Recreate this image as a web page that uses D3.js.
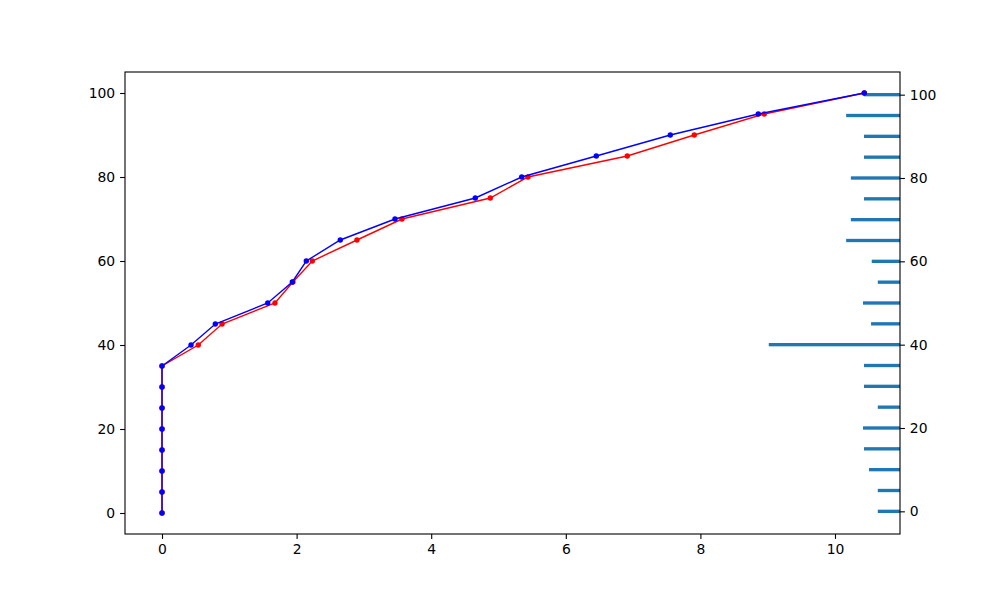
<!DOCTYPE html>
<html><head><meta charset="utf-8">
<script src="https://cdn.jsdelivr.net/npm/d3@7"></script>
<style>body{margin:0;background:#fff}svg{display:block}text{font-family:"DejaVu Sans",sans-serif}</style>
</head><body>
<svg id="c" width="1000" height="600"></svg>
<script>
const levels = [0,5,10,15,20,25,30,35,40,45,50,55,60,65,70,75,80,85,90,95,100];
const blueX = [0,0,0,0,0,0,0,0,0.431,0.792,1.571,1.936,2.144,2.649,3.462,4.655,5.345,6.453,7.553,8.860,10.435];
const redX  = [0,0,0,0,0,0,0,0,0.539,0.892,1.679,1.946,2.233,2.897,3.566,4.878,5.438,6.914,7.909,8.949,10.435];
const barLen = [0.33,0.33,0.46,0.535,0.55,0.33,0.535,0.535,1.95,0.43,0.55,0.33,0.42,0.80,0.73,0.535,0.73,0.535,0.535,0.80,0.535];
const xTicks = [0,2,4,6,8,10];
const yTicks = [0,20,40,60,80,100];

const svg = d3.select("#c");
const L=125,R=900,T=72,B=534;
const x = d3.scaleLinear().domain([-0.55,10.966]).range([L,R]);
const y = d3.scaleLinear().domain([-5,105]).range([B,T]);
const barH = 0.8;
const y2 = d3.scaleLinear().domain([-5.44,105.44]).range([B,T]);

// bars
const xMax = x.domain()[1];
svg.append("g").selectAll("rect").data(levels).join("rect")
  .attr("x",(d,i)=>x(xMax-barLen[i]))
  .attr("width",(d,i)=>x(xMax)-x(xMax-barLen[i]))
  .attr("y",d=>y2(d+barH/2))
  .attr("height",d=>y2(d-barH/2)-y2(d+barH/2))
  .attr("fill","#1f77b4");

function series(xs,color){
  const pts = levels.map((v,i)=>[xs[i],v]);
  svg.append("path").datum(pts)
    .attr("d",d3.line().x(d=>x(d[0])).y(d=>y(d[1])))
    .attr("fill","none").attr("stroke",color).attr("stroke-width",1.4);
  svg.append("g").selectAll("circle").data(pts).join("circle")
    .attr("cx",d=>x(d[0])).attr("cy",d=>y(d[1])).attr("r",2.7).attr("fill",color);
}
series(redX,"red");
series(blueX,"blue");

// axes
const fs = "13.9px";
const gx = svg.append("g").attr("transform",`translate(0,${B})`)
  .call(d3.axisBottom(x).tickValues(xTicks).tickFormat(d3.format("d")).tickSize(4.9).tickPadding(4.9));
const gy = svg.append("g").attr("transform",`translate(${L},0)`)
  .call(d3.axisLeft(y).tickValues(yTicks).tickFormat(d3.format("d")).tickSize(4.9).tickPadding(4.9));
const gy2 = svg.append("g").attr("transform",`translate(${R},0)`)
  .call(d3.axisRight(y2).tickValues(yTicks).tickFormat(d3.format("d")).tickSize(4.9).tickPadding(4.9));
[gx,gy,gy2].forEach(g=>{
  g.select(".domain").remove();
  g.selectAll("text").style("font-size",fs).attr("fill","#000");
  g.selectAll("line").attr("stroke","#000").attr("stroke-width",1.1);
});
svg.append("rect").attr("x",L).attr("y",T).attr("width",R-L).attr("height",B-T)
  .attr("fill","none").attr("stroke","#000").attr("stroke-width",1.1);
</script>
</body></html>
